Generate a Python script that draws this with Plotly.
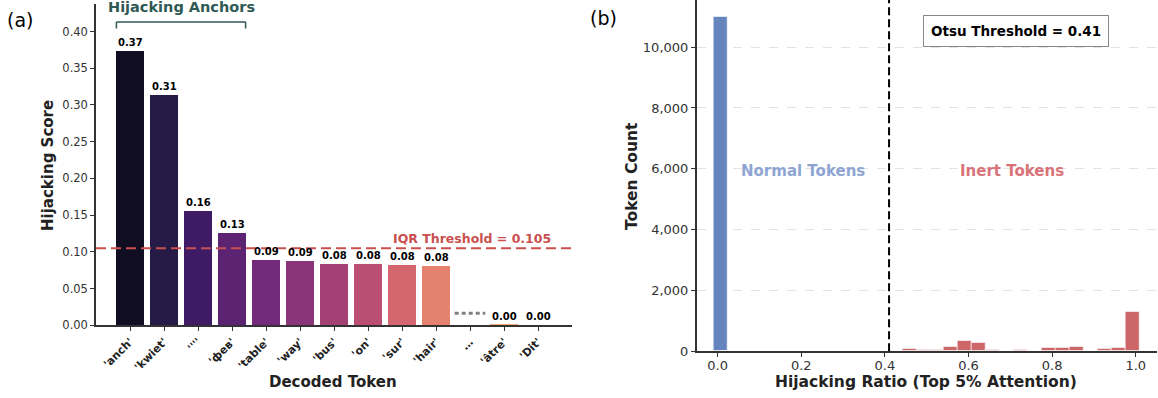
import plotly.graph_objects as go

# ---- Panel (a): per-token hijacking scores ----
tokens = ["'anch'", "'kwiet'", "''''", "'фев'", "'table'", "'way'", "'bus'",
          "'on'", "'sur'", "'hair'", "…", "'âtre'", "'Dit'"]
scores = [0.373, 0.314, 0.156, 0.126, 0.089, 0.088, 0.084,
          0.083, 0.082, 0.081, None, 0.001, 0.0]
bar_colors = ["#110e24", "#261a46", "#3f1b66", "#5b2372", "#732a7a", "#8a357a",
              "#a34074", "#bb4f73", "#d3666f", "#e5816f", "#ffffff", "#f2a878", "#f8cfa0"]
iqr_threshold = 0.105
n_anchors = 4
ellipsis_level = 0.0165

# ---- Panel (b): histogram of hijacking ratio (30 bins on [0, 1]) ----
n_bins = 30
normal_counts = [11000] + [0] * 29
inert_counts = [0] * 13 + [90, 30, 40, 130, 340, 265, 30, 8, 40, 15,
                           100, 120, 155, 25, 65, 100, 1280]
otsu_threshold = 0.41

FONT = "DejaVu Sans"
W, H = 1158, 398
DARK = "#333333"

bin_w = 1.0 / n_bins
bin_centers = [(i + 0.5) * bin_w for i in range(n_bins)]
idx = list(range(len(tokens)))

fig = go.Figure()

# bars for panel (a)
bx = [i for i in idx if scores[i] is not None]
fig.add_trace(go.Bar(
    x=bx, y=[scores[i] for i in bx], width=0.8,
    marker=dict(color=[bar_colors[i] for i in bx], line=dict(width=0)),
    xaxis="x", yaxis="y", showlegend=False, hoverinfo="skip"))

# histogram bars for panel (b)
for counts, col in [(normal_counts, "rgb(100,133,189)"), (inert_counts, "rgb(205,102,105)")]:
    fig.add_trace(go.Bar(
        x=bin_centers, y=counts, width=bin_w,
        marker=dict(color=col, line=dict(color="rgba(255,255,255,0.6)", width=1)),
        xaxis="x2", yaxis="y2", showlegend=False, hoverinfo="skip"))

annotations = []
shapes = []

# value labels above bars
for i in bx:
    annotations.append(dict(
        x=i, y=scores[i], xref="x", yref="y", text=f"{scores[i]:.2f}",
        showarrow=False, yanchor="bottom", yshift=1,
        font=dict(family=FONT, size=10, color="black", weight="bold")))

# IQR threshold line + label
shapes.append(dict(type="line", xref="x", yref="y", x0=-1, x1=13,
                   y0=iqr_threshold, y1=iqr_threshold,
                   line=dict(color="#c9504f", width=2, dash="10px,5px")))
annotations.append(dict(
    x=12.45, y=iqr_threshold, xref="x", yref="y", yshift=10,
    text=f"IQR Threshold = {iqr_threshold}", showarrow=False,
    xanchor="right", yanchor="middle",
    font=dict(family=FONT, size=12.5, color="#c9504f", weight="bold")))

# dotted marker over the elided tokens
shapes.append(dict(type="line", xref="x", yref="y", x0=9.55, x1=10.45,
                   y0=ellipsis_level, y1=ellipsis_level,
                   line=dict(color="#808080", width=3, dash="4px,3px")))

# bracket over the anchor tokens
teal = "#2f5955"
bl, br = -0.4, n_anchors - 1 + 0.4
top, foot = 0.413, 0.404
shapes += [
    dict(type="line", xref="x", yref="y", x0=bl, x1=br, y0=top, y1=top, line=dict(color=teal, width=1.5)),
    dict(type="line", xref="x", yref="y", x0=bl, x1=bl, y0=foot, y1=top, line=dict(color=teal, width=1.5)),
    dict(type="line", xref="x", yref="y", x0=br, x1=br, y0=foot, y1=top, line=dict(color=teal, width=1.5)),
]
annotations.append(dict(
    x=(bl + br) / 2, y=0.4336, xref="x", yref="y", text="Hijacking Anchors",
    showarrow=False, xanchor="center", yanchor="middle",
    font=dict(family=FONT, size=14.5, color=teal, weight="bold")))

# Otsu threshold vertical line
shapes.append(dict(type="line", xref="x2", yref="y2", x0=otsu_threshold, x1=otsu_threshold,
                   y0=0, y1=11550, line=dict(color="black", width=2, dash="8px,4px")))
annotations.append(dict(
    x=0.713, y=10520, xref="x2", yref="y2", text=f"Otsu Threshold = {otsu_threshold}",
    showarrow=False, xanchor="center", yanchor="middle",
    bordercolor="#888888", borderwidth=1, borderpad=7, bgcolor="white",
    font=dict(family=FONT, size=13.5, color="black", weight="bold")))
annotations.append(dict(
    x=0.204, y=5930, xref="x2", yref="y2", text="Normal Tokens", showarrow=False,
    font=dict(family=FONT, size=15, color="#8ea5d4", weight="bold")))
annotations.append(dict(
    x=0.703, y=5930, xref="x2", yref="y2", text="Inert Tokens", showarrow=False,
    font=dict(family=FONT, size=15, color="#d9737a", weight="bold")))


def paper(px, py):
    return px / W, 1 - py / H


def title(text, px, py, size, angle=0):
    x, y = paper(px, py)
    annotations.append(dict(
        x=x, y=y, xref="paper", yref="paper", text=text, showarrow=False,
        textangle=angle, xanchor="center", yanchor="middle",
        font=dict(family=FONT, size=size, color="#222222", weight="bold")))


title("Hijacking Score", 48, 166, 15, -90)
title("Decoded Token", 333, 382, 15)
title("Token Count", 632, 176, 15.5, -90)
title("Hijacking Ratio (Top 5% Attention)", 926, 382, 15.5)

for lab, px, py in [("(a)", 20, 20), ("(b)", 603, 18)]:
    x, y = paper(px, py)
    annotations.append(dict(x=x, y=y, xref="paper", yref="paper", text=lab,
                            showarrow=False, xanchor="center", yanchor="middle",
                            font=dict(family=FONT, size=19, color="black")))

axis_common = dict(showline=True, linecolor=DARK, linewidth=1.5, ticks="outside",
                   ticklen=4, tickwidth=1.2, tickcolor=DARK, zeroline=False, mirror=False,
                   automargin=False)

fig.update_layout(
    width=W, height=H, margin=dict(l=0, r=0, t=0, b=0, autoexpand=False),
    paper_bgcolor="white", plot_bgcolor="white", bargap=0,
    font=dict(family=FONT, color=DARK),
    xaxis=dict(domain=[96 / W, 572 / W], range=[-1, 13], tickvals=idx, ticktext=tokens,
               tickangle=-45, showgrid=False,
               tickfont=dict(family=FONT, size=11, color="#222222", weight="bold"),
               anchor="y", **axis_common),
    yaxis=dict(domain=[1 - 325.3 / H, 1 - 4 / H], range=[0, 0.4375],
               tickvals=[0, 0.05, 0.1, 0.15, 0.2, 0.25, 0.3, 0.35, 0.4], tickformat=".2f",
               showgrid=False, tickfont=dict(family=FONT, size=11.5, color=DARK),
               anchor="x", **axis_common),
    xaxis2=dict(domain=[696.7 / W, 1156.7 / W], range=[-0.05, 1.05],
                tickvals=[0, 0.2, 0.4, 0.6, 0.8, 1.0], tickformat=".1f", showgrid=False,
                ticklabelstandoff=-3,
                tickfont=dict(family=FONT, size=13, color=DARK), anchor="y2", **axis_common),
    yaxis2=dict(domain=[1 - 351.3 / H, 1.0], range=[0, 11550],
                tickvals=[0, 2000, 4000, 6000, 8000, 10000], tickformat=",",
                showgrid=True, gridcolor="#e3e3e3", griddash="dash", gridwidth=1,
                tickfont=dict(family=FONT, size=13, color=DARK), anchor="x2", **axis_common),
    shapes=shapes, annotations=annotations,
)

fig.write_html("out.html")
